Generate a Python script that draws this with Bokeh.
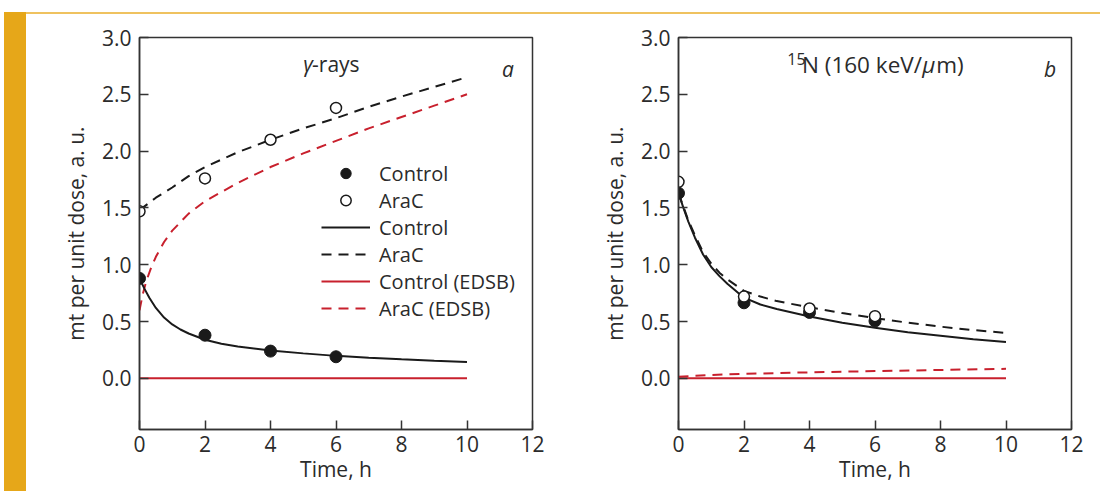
from bokeh.plotting import figure
from bokeh.models import Range1d, FixedTicker, Label, Legend, LegendItem, Div
from bokeh.layouts import row, column
from bokeh.embed import file_html
from bokeh.resources import INLINE

# ---------------- data ----------------
pts_t = [0, 2, 4, 6]

# panel a (gamma-rays)
a_ctrl_pts = [0.88, 0.38, 0.24, 0.19]
a_arac_pts = [1.47, 1.76, 2.10, 2.38]

a_ctrl_fit_t = [0, 0.15, 0.3, 0.5, 0.75, 1, 1.25, 1.5, 2, 2.5, 3, 4, 5, 6, 7, 8, 9, 10]
a_ctrl_fit = [0.88, 0.79, 0.71, 0.62, 0.535, 0.475, 0.43, 0.395, 0.34, 0.305, 0.28,
              0.245, 0.22, 0.198, 0.182, 0.168, 0.155, 0.145]

a_arac_fit_t = [0, 0.5, 1, 1.5, 2, 3, 4, 5, 6, 7, 8, 9, 10]
a_arac_fit = [1.48, 1.59, 1.68, 1.78, 1.86, 1.99, 2.10, 2.20, 2.29, 2.39, 2.48, 2.565, 2.65]

a_ctrl_edsb_t = [0, 10]
a_ctrl_edsb = [0.0, 0.0]

a_arac_edsb_t = [0, 0.1, 0.2, 0.35, 0.5, 0.75, 1, 1.5, 2, 3, 4, 5, 6, 7, 8, 9, 10]
a_arac_edsb = [0.60, 0.74, 0.85, 0.97, 1.07, 1.20, 1.30, 1.45, 1.56, 1.72, 1.86,
               1.98, 2.09, 2.20, 2.30, 2.40, 2.50]

# panel b (15N)
b_ctrl_pts = [1.63, 0.665, 0.58, 0.505]
b_arac_pts = [1.73, 0.72, 0.615, 0.547]

b_fit_t = [0, 0.15, 0.3, 0.5, 0.75, 1, 1.25, 1.5, 2, 2.5, 3, 4, 5, 6, 7, 8, 9, 10]
b_ctrl_fit = [1.63, 1.50, 1.38, 1.24, 1.09, 0.98, 0.90, 0.83, 0.71, 0.65, 0.61,
              0.545, 0.49, 0.445, 0.405, 0.375, 0.345, 0.32]
b_arac_fit = [1.63, 1.51, 1.39, 1.26, 1.11, 1.01, 0.93, 0.87, 0.77, 0.72, 0.68,
              0.625, 0.575, 0.53, 0.49, 0.455, 0.425, 0.40]

b_ctrl_edsb_t = [0, 10]
b_ctrl_edsb = [0.0, 0.0]

b_arac_edsb_t = [0, 1, 2, 4, 6, 8, 10]
b_arac_edsb = [0.015, 0.03, 0.04, 0.053, 0.064, 0.074, 0.084]

x_ticks = [0, 2, 4, 6, 8, 10, 12]
y_ticks = [0.0, 0.5, 1.0, 1.5, 2.0, 2.5, 3.0]
y_tick_labels = {0.0: "0.0", 0.5: "0.5", 1.0: "1.0", 1.5: "1.5", 2.0: "2.0", 2.5: "2.5", 3.0: "3.0"}

# ---------------- style ----------------
FONT = "Open Sans"
TXT = "#2b2b2b"
AX = "#333333"
BLACK = "#1a1a1a"
RED = "#c8202d"
DASH = "10 7"
LW = 2.0
TICK_FS = "21px"
AXLAB_FS = "21px"


def style_axis(ax):
    ax.axis_line_color = AX
    ax.axis_line_width = 1.5
    ax.major_tick_line_color = AX
    ax.major_tick_line_width = 1.5
    ax.major_tick_in = 9
    ax.major_tick_out = 0
    ax.minor_tick_line_color = None
    ax.major_label_text_font = FONT
    ax.major_label_text_font_size = TICK_FS
    ax.major_label_text_color = TXT
    ax.axis_label_text_font = FONT
    ax.axis_label_text_font_size = AXLAB_FS
    ax.axis_label_text_font_style = "normal"
    ax.axis_label_text_color = TXT


def make_fig(width, mbl, mbr):
    p = figure(width=width, height=477, output_backend="svg", toolbar_location=None,
               x_range=Range1d(0, 12), y_range=Range1d(-0.45, 3.0),
               min_border_left=mbl, min_border_right=mbr, min_border_top=23,
               min_border_bottom=62)
    p.background_fill_color = "white"
    p.border_fill_color = "white"
    p.outline_line_color = AX
    p.outline_line_width = 1.5
    p.grid.visible = False
    xa = p.xaxis[0]
    ya = p.yaxis[0]
    style_axis(xa)
    style_axis(ya)
    xa.ticker = FixedTicker(ticks=x_ticks)
    ya.ticker = FixedTicker(ticks=y_ticks)
    ya.major_label_overrides = y_tick_labels
    xa.axis_label = "Time, h"
    ya.axis_label = "mt per unit dose, a. u."
    xa.major_label_standoff = 6
    xa.axis_label_standoff = 0
    ya.major_label_standoff = 8
    ya.axis_label_standoff = 9
    return p


def lab(p, x, y, text, size="20px", style="normal", align="left"):
    p.add_layout(Label(x=x, y=y, text=text, text_font=FONT, text_font_size=size,
                       text_font_style=style, text_color=TXT, text_align=align,
                       text_baseline="alphabetic"))


# ---------------- panel a ----------------
pa = make_fig(534, 113, 28)
r_ce = pa.line(a_ctrl_edsb_t, a_ctrl_edsb, line_color=RED, line_width=LW)
r_ae = pa.line(a_arac_edsb_t, a_arac_edsb, line_color=RED, line_width=LW, line_dash=DASH)
r_cf = pa.line(a_ctrl_fit_t, a_ctrl_fit, line_color=BLACK, line_width=LW)
r_af = pa.line(a_arac_fit_t, a_arac_fit, line_color=BLACK, line_width=LW, line_dash=DASH)
r_cp = pa.scatter(pts_t, a_ctrl_pts, size=12, fill_color=BLACK, line_color=BLACK, line_width=1)
r_ap = pa.scatter(pts_t, a_arac_pts, size=11, fill_color="white", line_color=BLACK, line_width=1.5)

legend = Legend(items=[
    LegendItem(label="Control", renderers=[r_cp]),
    LegendItem(label="AraC", renderers=[r_ap]),
    LegendItem(label="Control", renderers=[r_cf]),
    LegendItem(label="AraC", renderers=[r_af]),
    LegendItem(label="Control (EDSB)", renderers=[r_ce]),
    LegendItem(label="AraC (EDSB)", renderers=[r_ae]),
], location=(182, 107.5))
legend.padding = 0
legend.margin = 0
legend.spacing = 0
legend.border_line_color = None
legend.background_fill_alpha = 0
legend.glyph_width = 49
legend.glyph_height = 26
legend.label_height = 26
legend.label_standoff = 9
legend.label_text_font = FONT
legend.label_text_font_size = "20px"
legend.label_text_color = TXT
pa.add_layout(legend, "center")

lab(pa, 5.0, 2.77, "γ", size="21px", style="italic")
lab(pa, 5.27, 2.77, "-rays", size="21px")
lab(pa, 11.07, 2.727, "a", size="21px", style="italic")

# ---------------- panel b ----------------
pb = make_fig(540, 118, 29)
pb.line(b_ctrl_edsb_t, b_ctrl_edsb, line_color=RED, line_width=LW)
pb.line(b_arac_edsb_t, b_arac_edsb, line_color=RED, line_width=LW, line_dash=DASH)
pb.line(b_fit_t, b_ctrl_fit, line_color=BLACK, line_width=LW)
pb.line(b_fit_t, b_arac_fit, line_color=BLACK, line_width=LW, line_dash=DASH)
pb.scatter(pts_t, b_ctrl_pts, size=12, fill_color=BLACK, line_color=BLACK, line_width=1)
pb.scatter(pts_t, b_arac_pts, size=11, fill_color="white", line_color=BLACK, line_width=1.5)

lab(pb, 3.32, 2.81, "15", size="16px")
lab(pb, 3.77, 2.762, "N (160 keV/", size="22.5px")
lab(pb, 7.44, 2.762, "μ", size="22.5px", style="italic")
lab(pb, 7.87, 2.762, "m)", size="22.5px")
lab(pb, 11.16, 2.727, "b", size="21px", style="italic")

# ---------------- page decoration ----------------
top_space = Div(text="", width=1100, height=12, margin=0)
left_space = Div(text="", width=4, height=479, margin=0)
bar = Div(text="", width=22, height=479, margin=0, styles={"background-color": "#e6a719"})
topline = Div(text="", width=1074, height=2, margin=0, styles={"background-color": "#efc25f"})

layout = column(top_space, row(left_space, bar, column(topline, row(pa, pb))))

open("out.html", "w").write(file_html(layout, INLINE))
